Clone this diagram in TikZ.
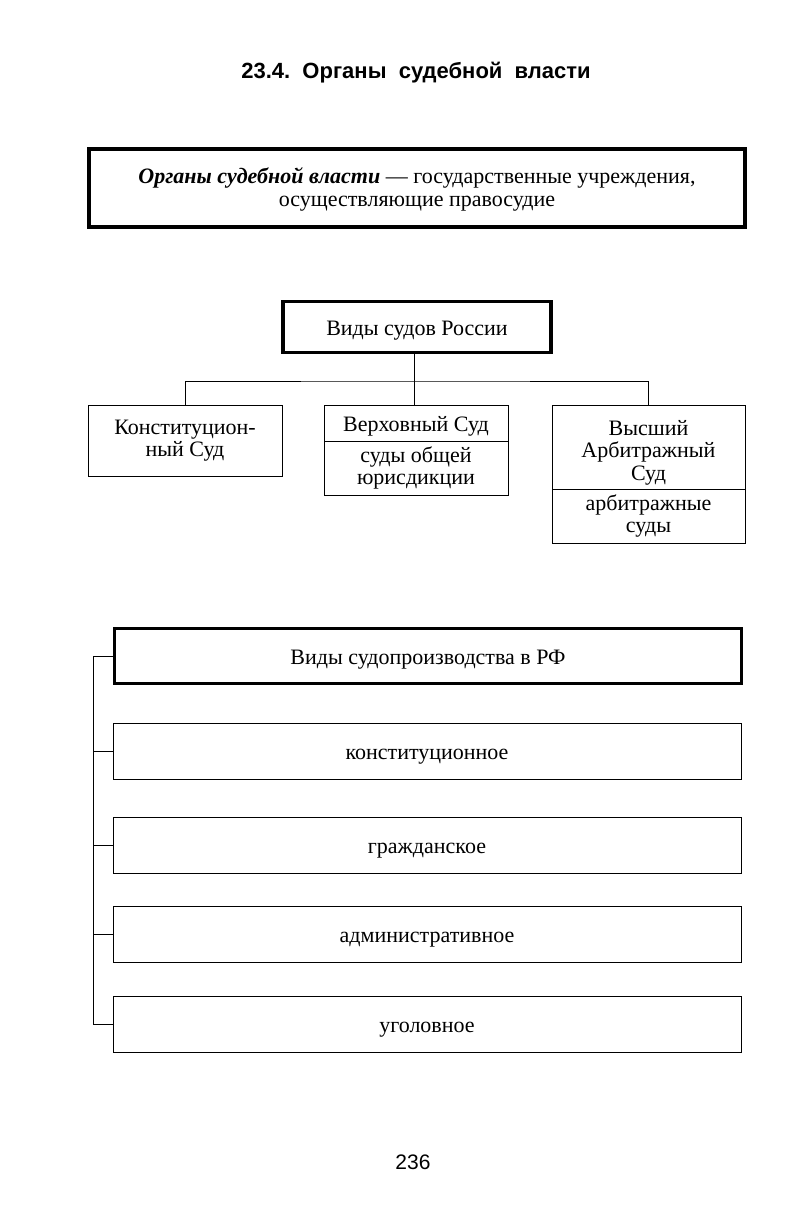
\documentclass[tikz,border=0pt]{standalone}
\usepackage{fontspec}
\setmainfont{Liberation Serif}
\newfontfamily\headfont{Liberation Sans}
\tikzset{
  thickbox/.style={draw, line width=3.5pt, inner sep=0pt, align=center},
  thinbox/.style={draw, line width=0.9pt, inner sep=0pt, align=center},
  link/.style={draw, line width=0.9pt},
  txt/.style={font=\fontsize{22}{22.5}\selectfont},
  oneline/.style={text height=16.5pt, text depth=0pt}
}
\begin{document}
\begin{tikzpicture}[x=1pt, y=-1pt]
\fill[white] (0,0) rectangle (800,1223);
\useasboundingbox (0,0) rectangle (800,1223);

\node[font=\headfont\bfseries\fontsize{22}{24}\selectfont] (title) at (416,73) {23.4.\ \ Органы\ \ судебной\ \ власти};

\node[thickbox, font=\fontsize{22}{23.5}\selectfont, minimum width=656pt, minimum height=78pt] (def) at (417,188)
  {\rule{0pt}{19pt}\textbf{\textit{Органы судебной власти}} — государственные учреждения,\\ осуществляющие правосудие};

\node[thickbox, txt, oneline, minimum width=268pt, minimum height=51pt] (vs) at (417,327) {Виды судов России};

\node[thinbox, txt, minimum width=194pt, minimum height=71pt] (k) at (185,440.5) {Конституцион-\\ный Суд};

\node[thinbox, txt, oneline, minimum width=184pt, minimum height=36pt] (vt) at (416,423) {Верховный Суд};
\node[thinbox, txt, minimum width=184pt, minimum height=54pt] (vb) at (416,468) {суды общей\\юрисдикции};

\node[thinbox, txt, minimum width=193pt, minimum height=84pt] (at) at (648.5,447) {\rule{0pt}{26pt}Высший\\Арбитражный\\Суд};
\node[thinbox, txt, minimum width=193pt, minimum height=54pt] (ab) at (648.5,516) {арбитражные\\суды};

\coordinate (hub) at (414,381);
\draw[link] (vs.south -| hub) -- (hub);
\draw[link] (k.north) |- (hub) -| (at.north);
\draw[link] (hub) -- (hub |- vt.north);

\node[thickbox, txt, oneline, minimum width=627pt, minimum height=55pt] (vp) at (428,656) {Виды судопроизводства в РФ};
\node[thinbox, txt, oneline, minimum width=628pt, minimum height=56pt] (k1) at (427,751) {конституционное};
\node[thinbox, txt, oneline, minimum width=628pt, minimum height=56pt] (k2) at (427,845) {гражданское};
\node[thinbox, txt, oneline, minimum width=628pt, minimum height=56pt] (k3) at (427,934) {административное};
\node[thinbox, txt, oneline, minimum width=628pt, minimum height=56pt] (k4) at (427,1024) {уголовное};

\coordinate (sp) at (93,0);
\draw[link] (vp.west) -- (vp.west -| sp) -- (sp |- k4.west) -- (k4.west);
\foreach \b in {k1,k2,k3} \draw[link] (\b.west) -- (\b.west -| sp);

\node[font=\headfont\fontsize{21}{22}\selectfont] (page) at (413,1162) {236};
\end{tikzpicture}
\end{document}
